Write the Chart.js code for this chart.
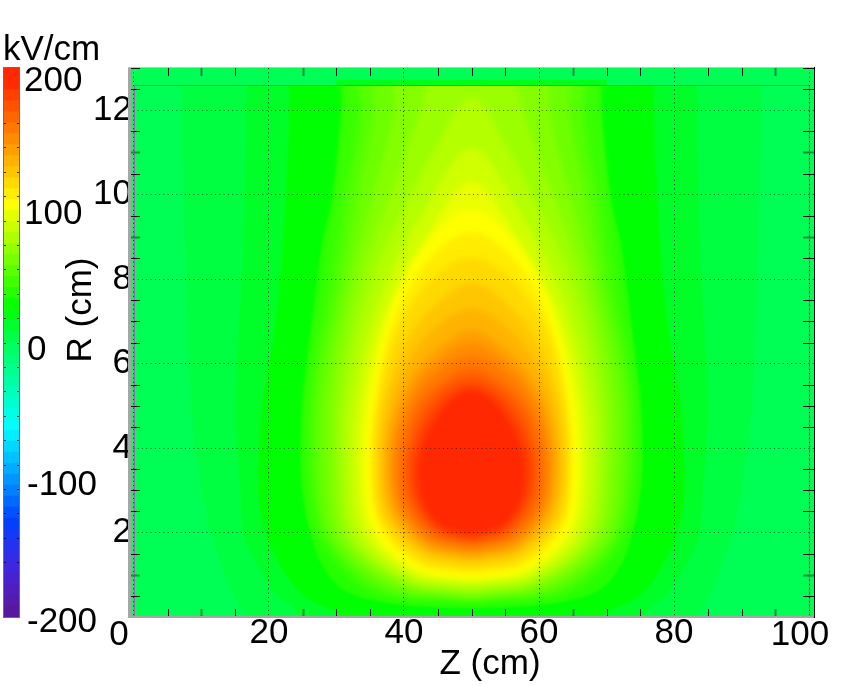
<!DOCTYPE html>
<html>
<head>
<meta charset="utf-8">
<style>
  html, body { margin: 0; background: #fff; }
  canvas { position: absolute; left: 0; top: 0; }
</style>
<script src="https://cdn.jsdelivr.net/npm/chart.js@4"></script>
</head>
<body>
<canvas id="barCanvas" width="125" height="686"></canvas>
<canvas id="mapCanvas" width="857" height="686"></canvas>
<script>
const FONT = '35px "Liberation Sans"';

const xTicks = [0, 20, 40, 60, 80, 100];
const yTicks = [0, 2, 4, 6, 8, 10, 12];
const xMinorTicks = [5, 15, 30, 35, 45, 50, 55, 70, 75, 85, 90];
const xGreenTicks = [10, 25, 65, 95];
const yMinorTicks = [0.5, 1.5, 2.5, 3, 3.5, 4.5, 5, 5.5, 6.5, 7, 7.5, 8.5, 9.5, 10.5, 11.5, 12.5, 13];
const yGreenTicks = [1, 9, 11];

const barTickLabels = ['200', '100', '0', '-100', '-200'];
const barValues = [196, 188, 180, 172, 164, 156, 148, 140, 132, 124, 116, 108, 100, 92, 84, 76, 68, 60, 52, 44, 36, 28, 20, 12, 4,
  -4, -12, -20, -28, -36, -44, -52, -60, -68, -76, -84, -92, -100, -108, -116, -124, -132, -140, -148, -156, -164, -172, -180, -188, -196];

// filled contours of the field, outermost first (kV/cm)
const levels = [6, 13, 24, 36, 42, 50, 57, 64, 71, 78, 86, 94, 100, 108, 116, 124, 132, 140, 148, 156, 164, 172, 180, 190];
const contourZ = [
  [82, 84.3, 87, 88.7, 90, 91.6, 92.5, 93, 93, 7, 7, 7.5, 8.4, 10, 11.3, 13, 15.7, 18],
  [74, 76.4, 78.8, 82.4, 83.8, 84.3, 85, 83.8, 83.4, 83.4, 16.6, 16.6, 16.2, 15, 15.7, 16.2, 17.6, 21.2, 23.6, 26],
  [68, 70, 74, 77.5, 80.5, 81.5, 81, 79, 77.5, 77, 77, 23, 23, 22.5, 21, 19, 18.5, 19.5, 22.5, 26, 30, 32],
  [51, 62, 68.7, 72, 73.9, 75.2, 75.1, 74.2, 72.2, 70.5, 69, 69, 31, 31, 29.5, 27.8, 25.8, 24.9, 24.8, 26.1, 28, 31.3, 38, 49],
  [51, 65, 72.6, 74.6, 74.4, 72, 70.3, 69, 68.5, 31.5, 31, 29.7, 28, 25.6, 25.4, 27.4, 35, 49],
  [51, 63.5, 71.4, 73.4, 73.3, 70.3, 68.5, 66.5, 67, 33, 33.5, 31.5, 29.7, 26.7, 26.6, 28.6, 36.5, 49],
  [51, 62, 70.5, 72.4, 72.2, 69, 66.8, 64.5, 64.5, 35.5, 35.5, 33.2, 31, 27.8, 27.6, 29.5, 38, 49],
  [51, 61, 69.3, 71, 70.8, 67.8, 64.5, 61.5, 61, 39, 38.5, 35.5, 32.2, 29.2, 29, 30.7, 39, 49],
  [51, 60, 68.2, 69.9, 69.6, 66.3, 62, 57.5, 54, 46, 42.5, 38, 33.7, 30.4, 30.1, 31.8, 40, 49],
  [51, 59.5, 67.3, 69, 68.4, 64.6, 59, 55.7, 50, 44.3, 41, 35.4, 31.6, 31, 32.7, 40.5, 49],
  [51, 59, 66.2, 67.8, 67.1, 63.2, 57.5, 50, 42.5, 36.8, 32.9, 32.2, 33.8, 41, 49],
  [51, 58.5, 65, 66.6, 65.9, 62.5, 56.7, 50, 43.3, 37.5, 34.1, 33.4, 35, 41.5, 49],
  [51, 58, 64.2, 65.7, 64.9, 61.8, 56.4, 50, 43.6, 38.2, 35.1, 34.3, 35.8, 42, 49],
  [51, 57.7, 63.4, 64.8, 64.2, 61.3, 56.2, 50, 43.8, 38.7, 35.8, 35.2, 36.6, 42.3, 49],
  [51, 57.4, 63, 64.4, 63.7, 60.9, 55.9, 50, 44.1, 39.1, 36.3, 35.6, 37, 42.6, 49],
  [51, 57, 62.4, 63.7, 63, 60, 55.4, 50, 44.6, 40, 37, 36.3, 37.6, 43, 49],
  [51, 56.8, 61.8, 63, 62.3, 59.5, 55, 50, 45, 40.5, 37.7, 37, 38.2, 43.2, 49],
  [51, 56.6, 61.2, 62.4, 61.7, 58.8, 54.6, 50, 45.4, 41.2, 38.3, 37.6, 38.8, 43.4, 49],
  [51, 56.3, 60.6, 61.8, 61.1, 58.4, 54.4, 50, 45.6, 41.6, 38.9, 38.2, 39.4, 43.7, 49],
  [51, 56, 60.1, 61.1, 60.4, 58, 54.2, 50, 45.8, 42, 39.6, 38.9, 39.9, 44, 49],
  [51, 55.8, 59.4, 60.4, 59.7, 57.7, 54, 50, 46, 42.3, 40.3, 39.6, 40.6, 44.2, 49],
  [51, 55.5, 58.7, 59.6, 58.9, 57, 53.7, 50, 46.3, 43, 41.1, 40.4, 41.3, 44.5, 49],
  [51, 55, 58, 58.9, 58.1, 56.2, 53.3, 50, 46.7, 43.8, 41.9, 41.1, 42, 45, 49],
  [51, 54.5, 57.2, 58, 57.2, 55.5, 53, 50, 47, 44.5, 42.8, 42, 42.8, 45.5, 49]
];
const contourR = [
  [-0.2, 0.22, 1.2, 2, 3, 5, 9, 12.6, 14, 14, 12.6, 9, 5, 3, 2, 1.2, 0.22, -0.2],
  [-0.5, 0.22, 0.5, 1.4, 2, 3, 5, 9, 12.6, 14, 14, 12.6, 9, 5, 3, 2, 1.4, 0.5, 0.22, -0.5],
  [-0.3, 0.1, 0.4, 1, 2, 3, 5, 7, 10, 12.6, 14, 14, 12.6, 10, 7, 5, 3, 2, 1, 0.4, 0.1, -0.3],
  [0.2, 0.32, 0.62, 1.2, 2, 3.2, 4.9, 6.2, 8.8, 10, 12.6, 14, 14, 12.6, 10, 8.8, 6.2, 4.9, 3.2, 2, 1.2, 0.62, 0.32, 0.2],
  [0.33, 0.6, 1.85, 3.4, 5.5, 8, 10, 12, 14, 14, 12, 10, 8, 5.5, 3.4, 1.85, 0.6, 0.33],
  [0.4, 0.65, 1.85, 3.4, 5.5, 8, 10, 12, 14, 14, 12, 10, 8, 5.5, 3.4, 1.85, 0.65, 0.4],
  [0.46, 0.72, 1.85, 3.4, 5.5, 8, 10, 12, 14, 14, 12, 10, 8, 5.5, 3.4, 1.85, 0.72, 0.46],
  [0.52, 0.78, 1.85, 3.4, 5.5, 8, 10, 12, 14, 14, 12, 10, 8, 5.5, 3.4, 1.85, 0.78, 0.52],
  [0.6, 0.85, 1.85, 3.4, 5.5, 8, 10, 12, 14, 14, 12, 10, 8, 5.5, 3.4, 1.85, 0.85, 0.6],
  [0.68, 0.88, 1.85, 3.4, 5.5, 8, 10, 11, 12.3, 11, 10, 8, 5.5, 3.4, 1.85, 0.88, 0.68],
  [0.76, 0.96, 1.9, 3.4, 5.4, 7.7, 9.5, 11.1, 9.5, 7.7, 5.4, 3.4, 1.9, 0.96, 0.76],
  [0.85, 1.05, 1.95, 3.4, 5.3, 7.3, 9, 10.3, 9, 7.3, 5.3, 3.4, 1.95, 1.05, 0.85],
  [0.93, 1.13, 2, 3.4, 5.2, 7.3, 8.9, 9.64, 8.9, 7.3, 5.2, 3.4, 2, 1.13, 0.93],
  [1.04, 1.24, 2.1, 3.4, 5.2, 7.1, 8.5, 9.1, 8.5, 7.1, 5.2, 3.4, 2.1, 1.24, 1.04],
  [1.15, 1.35, 2.2, 3.4, 5.1, 6.8, 8, 8.5, 8, 6.8, 5.1, 3.4, 2.2, 1.35, 1.15],
  [1.28, 1.48, 2.3, 3.4, 5, 6.4, 7.4, 7.9, 7.4, 6.4, 5, 3.4, 2.3, 1.48, 1.28],
  [1.4, 1.6, 2.4, 3.4, 4.8, 6, 6.9, 7.3, 6.9, 6, 4.8, 3.4, 2.4, 1.6, 1.4],
  [1.48, 1.68, 2.45, 3.4, 4.6, 5.7, 6.4, 6.8, 6.4, 5.7, 4.6, 3.4, 2.45, 1.68, 1.48],
  [1.55, 1.75, 2.5, 3.4, 4.5, 5.5, 6.15, 6.5, 6.15, 5.5, 4.5, 3.4, 2.5, 1.75, 1.55],
  [1.65, 1.85, 2.55, 3.4, 4.4, 5.3, 5.9, 6.2, 5.9, 5.3, 4.4, 3.4, 2.55, 1.85, 1.65],
  [1.73, 1.95, 2.6, 3.4, 4.3, 5.05, 5.6, 5.9, 5.6, 5.05, 4.3, 3.4, 2.6, 1.95, 1.73],
  [1.82, 2.05, 2.7, 3.4, 4.2, 4.9, 5.45, 5.7, 5.45, 4.9, 4.2, 3.4, 2.7, 2.05, 1.82],
  [1.9, 2.1, 2.7, 3.4, 4.2, 4.8, 5.3, 5.5, 5.3, 4.8, 4.2, 3.4, 2.7, 2.1, 1.9],
  [1.97, 2.15, 2.7, 3.4, 4.1, 4.66, 5.15, 5.37, 5.15, 4.66, 4.1, 3.4, 2.7, 2.15, 1.97]
];

// the box drawn in the simulation, and the strips above it
const boxZ = [0.07, 0.07, 100.07, 100.07];
const boxR = [-1, 12.586, 12.586, -1];
const stripZ = [-2, 102, 102, -2];
const stripR = [12.6, 12.6, 14, 14];
const edgeZ = [30, 70, 70, 30];
const edgeR = [12.6, 12.6, 12.72, 12.72];
const fieldZ = [-2, 102, 102, -2];
const fieldR = [-1, -1, 14, 14];

// palette of the colour bar
const paletteValues = [-200, -180, -160, -130, -100, -62, 0, 25, 100, 190, 200];
const paletteColors = [[90, 22, 150], [80, 30, 190], [60, 40, 230], [0, 65, 255], [0, 150, 255], [0, 255, 255], [0, 255, 85], [0, 255, 0], [255, 255, 0], [255, 40, 0], [255, 40, 0]];

function colorOf(v) {
  let i = 0;
  while (i < paletteValues.length - 2 && v > paletteValues[i + 1]) i++;
  const t = (v - paletteValues[i]) / (paletteValues[i + 1] - paletteValues[i]);
  const a = paletteColors[i], b = paletteColors[i + 1];
  const c = a.map((p, k) => Math.round(p + (b[k] - p) * t));
  return `rgb(${c[0]},${c[1]},${c[2]})`;
}

function toPoints(zs, rs) {
  return zs.map((z, i) => ({ x: z, y: rs[i] }));
}

const mapDatasets = [];
// lower order is drawn later, so the box goes on top
mapDatasets.push({ data: toPoints(boxZ, boxR), showLine: true, borderColor: '#c04cc0', borderWidth: 1, pointRadius: 0, fill: false, order: 0 });
mapDatasets.push({ data: toPoints(edgeZ, edgeR), showLine: true, borderWidth: 0, pointRadius: 0, fill: 'shape', backgroundColor: colorOf(18), order: 1 });
mapDatasets.push({ data: toPoints(stripZ, stripR), showLine: true, borderWidth: 0, pointRadius: 0, fill: 'shape', backgroundColor: colorOf(0), order: 2 });
const firstContour = mapDatasets.length;
levels.forEach((lv, i) => {
  mapDatasets.push({
    data: toPoints(contourZ[i], contourR[i]),
    showLine: true,
    tension: 0.35,
    borderWidth: 0,
    pointRadius: 0,
    fill: 'shape',
    backgroundColor: colorOf(lv),
    order: 3 + levels.length - i
  });
});
mapDatasets.push({ data: toPoints(fieldZ, fieldR), showLine: true, borderWidth: 0, pointRadius: 0, fill: 'shape', backgroundColor: colorOf(0), order: 100 });

// soften the contour steps; filler runs before this plugin so set it after the previous one
const softBands = {
  id: 'softBands',
  afterDatasetDraw(chart, args) {
    const i = args.index - firstContour;
    if (i === levels.length) chart.ctx.filter = 'blur(1px)';
    else if (i >= 0 && i < levels.length - 1) chart.ctx.filter = i + 1 > 3 ? 'blur(3px)' : 'blur(1px)';
    else chart.ctx.filter = 'none';
  },
  afterDatasetsDraw(chart) { chart.ctx.filter = 'none'; }
};

const mapDecor = {
  id: 'mapDecor',
  afterDraw(chart) {
    const { ctx, chartArea: a, scales: { x, y } } = chart;
    ctx.save();
    // inside ticks on all four sides
    const vTick = (v, col, w) => {
      const p = Math.round(x.getPixelForValue(v)) + 0.5;
      ctx.strokeStyle = col; ctx.lineWidth = w;
      ctx.beginPath();
      ctx.moveTo(p, a.top); ctx.lineTo(p, a.top + 8);
      ctx.moveTo(p, a.bottom); ctx.lineTo(p, a.bottom - 8);
      ctx.stroke();
    };
    const hTick = (v, col, w) => {
      const p = Math.round(y.getPixelForValue(v)) + 0.5;
      ctx.strokeStyle = col; ctx.lineWidth = w;
      ctx.beginPath();
      ctx.moveTo(a.left, p); ctx.lineTo(a.left + 11, p);
      ctx.moveTo(a.right, p); ctx.lineTo(a.right - 11, p);
      ctx.stroke();
    };
    xMinorTicks.forEach(v => vTick(v, '#111', 1));
    xGreenTicks.forEach(v => vTick(v, '#128a3c', 2));
    yMinorTicks.forEach(v => hTick(v, '#111', 1));
    yGreenTicks.forEach(v => hTick(v, '#128a3c', 2));

    // frame
    ctx.fillStyle = '#a6a6a6';
    ctx.fillRect(a.left - 1, a.top - 1, 3, a.bottom - a.top + 2);
    ctx.fillRect(a.left - 1, a.bottom - 1, a.right - a.left + 1, 2);
    ctx.fillStyle = '#c4c4b8';
    ctx.fillRect(a.left - 1, a.top - 1, a.right - a.left + 1, 1);
    ctx.fillStyle = '#000';
    ctx.fillRect(a.right, a.top - 1, 1, a.bottom - a.top + 2);

    // text that does not sit on its tick
    ctx.fillStyle = '#000';
    ctx.font = FONT;
    ctx.textAlign = 'center';
    ctx.textBaseline = 'alphabetic';
    ctx.fillText('0', x.getPixelForValue(0) - 15, 645);
    ctx.fillText('100', x.getPixelForValue(100) - 9, 645);
    ctx.fillText('Z (cm)', 490, 674);
    ctx.translate(91, 310);
    ctx.rotate(-Math.PI / 2);
    ctx.fillText('R (cm)', 0, 0);
    ctx.restore();
  }
};

new Chart(document.getElementById('mapCanvas'), {
  type: 'scatter',
  data: { datasets: mapDatasets },
  plugins: [softBands, mapDecor],
  options: {
    responsive: false,
    animation: false,
    events: [],
    layout: { padding: { top: 68, right: 43, left: 0, bottom: 0 } },
    plugins: { legend: { display: false }, tooltip: { enabled: false } },
    scales: {
      x: {
        type: 'linear',
        min: -0.74,
        max: 100.74,
        afterFit(s) { s.height = 69; },
        afterBuildTicks(s) { s.ticks = xTicks.map(v => ({ value: v })); },
        grid: { z: 1, color: 'rgba(0,0,0,0.85)', drawTicks: false, lineWidth: 1 },
        border: { display: false, dash: [1, 3.3] },
        ticks: {
          autoSkip: false, maxRotation: 0, padding: -5,
          color: '#000', font: { family: 'Liberation Sans', size: 35 },
          callback: v => (v === 0 || v === 100) ? '' : String(v)
        }
      },
      y: {
        type: 'linear',
        min: 0,
        max: 13,
        afterFit(s) { s.width = 129; },
        afterBuildTicks(s) { s.ticks = yTicks.map(v => ({ value: v })); },
        grid: { z: 1, color: 'rgba(0,0,0,0.6)', drawTicks: false, lineWidth: 1 },
        border: { display: false, dash: [1, 3.3] },
        ticks: {
          autoSkip: false, padding: -3,
          color: '#000', font: { family: 'Liberation Sans', size: 35 },
          callback: v => v === 0 ? '' : String(v)
        }
      }
    }
  }
});

const barLabelY = [91, 224, 360, 495, 632];
const barLabelX = [24, 24, 27, 27, 27];

const barDecor = {
  id: 'barDecor',
  afterDraw(chart) {
    const { ctx, chartArea: a, scales: { level } } = chart;
    ctx.save();
    ctx.strokeStyle = '#6e6e6e';
    ctx.lineWidth = 1;
    ctx.strokeRect(a.left - 0.5, a.top - 0.5, a.right - a.left + 1, a.bottom - a.top + 1);
    ctx.strokeStyle = 'rgba(0,0,0,0.75)';
    for (let v = -180; v <= 180; v += 20) {
      const p = Math.round(level.getPixelForValue(v)) + 0.5;
      ctx.beginPath();
      ctx.moveTo(a.left, p); ctx.lineTo(a.left + 2, p);
      ctx.moveTo(a.right, p); ctx.lineTo(a.right - 2, p);
      ctx.stroke();
    }
    ctx.fillStyle = '#000';
    ctx.font = FONT;
    ctx.textAlign = 'left';
    ctx.textBaseline = 'alphabetic';
    ctx.fillText('kV/cm', 3, 60);
    barTickLabels.forEach((t, i) => ctx.fillText(t, barLabelX[i], barLabelY[i]));
    ctx.restore();
  }
};

new Chart(document.getElementById('barCanvas'), {
  type: 'bar',
  data: {
    labels: barValues,
    datasets: [{
      data: barValues.map(() => 1),
      backgroundColor: barValues.map(v => colorOf(v)),
      barPercentage: 1,
      categoryPercentage: 1,
      inflateAmount: 0.5,
      borderWidth: 0
    }]
  },
  plugins: [barDecor],
  options: {
    indexAxis: 'y',
    responsive: false,
    animation: false,
    events: [],
    layout: { padding: { top: 68, right: 106, left: 4, bottom: 69 } },
    plugins: { legend: { display: false }, tooltip: { enabled: false } },
    scales: {
      x: { type: 'linear', min: 0, max: 1, display: false },
      y: { type: 'category', offset: true, display: false },
      level: { axis: 'y', type: 'linear', min: -200, max: 200, display: false }
    }
  }
});
</script>
</body>
</html>
